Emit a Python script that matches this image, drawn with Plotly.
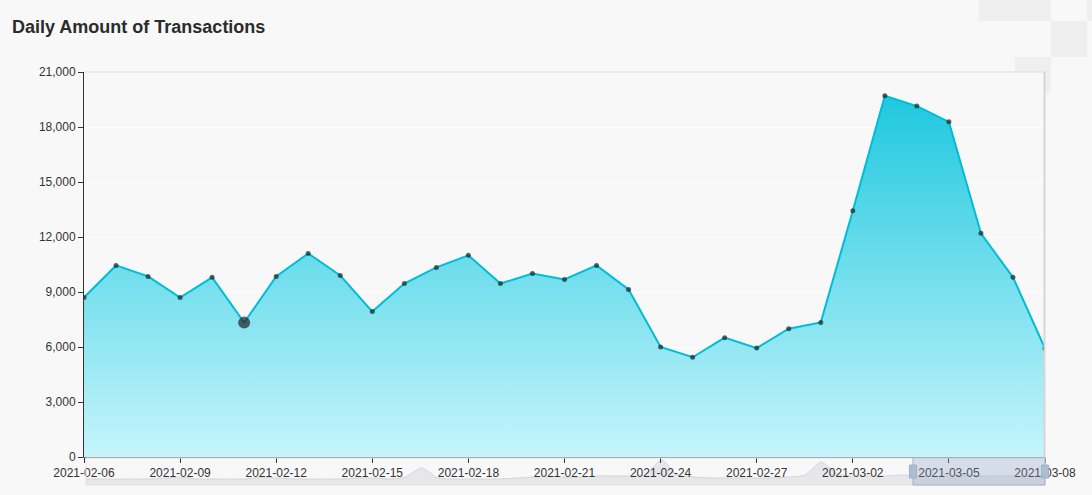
import plotly.graph_objects as go
import pandas as pd

# ---------------- data ----------------
dates = [d.strftime("%Y-%m-%d") for d in pd.date_range("2021-02-06", "2021-03-08", freq="D")]
amounts = [8700, 10450, 9850, 8700, 9800, 7330, 9850, 11100, 9900, 7930,
           9460, 10340, 11000, 9460, 10010, 9680, 10450, 9140, 6000, 5440,
           6510, 5940, 7000, 7340, 13430, 19700, 19140, 18280, 12200, 9800, 5920]
highlight_date = "2021-02-11"

# overview (slider) series, half-day resolution, arbitrary units
overview_times = [d.strftime("%Y-%m-%d %H:%M") for d in pd.date_range("2021-02-06", "2021-03-08", freq="12h")]
overview_vals = [6, 6, 6, 6, 6, 7, 8, 6, 6, 6,
                 6, 8, 7, 6, 6, 6, 6, 7, 7, 6,
                 8, 17, 7, 6, 6, 6, 6, 7, 8, 9,
                 8, 8, 9, 9, 9, 10, 25, 10, 8, 7,
                 7, 7, 7, 7, 8, 10, 23, 11, 9, 9,
                 9, 10, 9, 9, 9, 10, 9, 9, 9, 9, 9]

y_ticks = [0, 3000, 6000, 9000, 12000, 15000, 18000, 21000]

# ---------------- geometry helpers (pixels -> paper) ----------------
W, H = 1092, 495
L, R, T, B = 84, 1045, 72, 485
def px(x):
    return (x - L) / (R - L)
def py(y):
    return (B - y) / (B - T)

BG = "#f8f8f8"

sizes = [12 if d == highlight_date else 5 for d in dates]

fig = go.Figure()

# overview mini chart (slider) -- drawn in first subplot so main axis labels sit on top
fig.add_trace(go.Scatter(
    x=overview_times, y=overview_vals, xaxis="x", yaxis="y",
    mode="lines", line=dict(color="#d3d5da", width=1, shape="spline", smoothing=0.6),
    fill="tozeroy", fillcolor="#e6e7ea", hoverinfo="skip", showlegend=False,
))

# main area
fig.add_trace(go.Scatter(
    x=dates, y=amounts, mode="lines+markers", xaxis="x2", yaxis="y2",
    line=dict(color="#00bcd6", width=2),
    marker=dict(color="#222222", size=sizes, line=dict(width=0)),
    fill="tozeroy",
    fillgradient=dict(type="vertical",
                      colorscale=[[0, "#c6f5fb"], [1, "#1fc8df"]]),
    showlegend=False,
))

shapes = []
# decorative squares top-right
for (x0, y0, x1, y1) in [(979, 0, 1051, 21), (1087, 0, 1100, 21), (1051, 21, 1087, 57),
                         (1015, 57, 1051, 72), (1045, 72, 1051, 93)]:
    shapes.append(dict(type="rect", xref="paper", yref="paper",
                       x0=px(x0), x1=px(x1), y0=py(y1), y1=py(y0),
                       fillcolor="#efefef", line=dict(width=0), layer="below"))
# plot frame top & right
shapes.append(dict(type="line", xref="paper", yref="paper", x0=0, x1=1, y0=1, y1=1,
                   line=dict(color="#dcdcdc", width=1)))
shapes.append(dict(type="line", xref="paper", yref="paper", x0=px(1044.5), x1=px(1044.5),
                   y0=py(457), y1=1, line=dict(color="#d6d6d6", width=2)))
# slider frame
shapes.append(dict(type="rect", xref="paper", yref="paper", x0=px(86), x1=px(1045),
                   y0=py(485), y1=py(458), line=dict(color="#e2e2e2", width=1),
                   fillcolor="rgba(0,0,0,0)"))
# slider selected window
shapes.append(dict(type="rect", xref="paper", yref="paper", x0=px(913), x1=px(1045),
                   y0=py(485), y1=py(457.5), line=dict(color="#9fb2cc", width=1),
                   fillcolor="rgba(140,160,195,0.30)", layer="above"))
# handles
for hx in (913, 1045):
    shapes.append(dict(type="rect", xref="paper", yref="paper", x0=px(hx - 3.5), x1=px(hx + 3.5),
                       y0=py(478), y1=py(465), line=dict(color="#9fb2cc", width=1),
                       fillcolor="#aebdd2", layer="above"))

fig.update_layout(
    width=W, height=H,
    margin=dict(l=L, r=W - R, t=T, b=H - B, autoexpand=False),
    paper_bgcolor=BG, plot_bgcolor=BG,
    font=dict(family="Liberation Sans, Arial, sans-serif", size=12, color="#333333"),
    title=dict(text="<b>Daily Amount of Transactions</b>", xref="container", yref="container",
               x=12 / W, xanchor="left", y=1 - 27 / H, yanchor="middle",
               font=dict(size=18, color="#2b2b2b")),
    xaxis2=dict(type="date", range=[dates[0], dates[-1]], tick0=dates[0], dtick=3 * 86400000,
                tickformat="%Y-%m-%d", showgrid=False, zeroline=False,
                showline=True, linecolor="#6b7b80", linewidth=1,
                ticks="outside", ticklen=5, tickcolor="#333333",
                anchor="y2", fixedrange=True, automargin=False),
    yaxis2=dict(range=[0, 21000], tickvals=y_ticks, tickformat=",d", anchor="x2",
                domain=[py(457), 1], showgrid=True, gridcolor="#ffffff", gridwidth=1,
                zeroline=False, showline=True, linecolor="#333333", linewidth=1,
                ticks="outside", ticklen=5, tickcolor="#333333", fixedrange=True,
                automargin=False),
    xaxis=dict(type="date", range=[overview_times[0], overview_times[-1]],
               domain=[px(86), 1], anchor="y", visible=False, fixedrange=True),
    yaxis=dict(range=[0, 27], domain=[0, py(458)], anchor="x", visible=False, fixedrange=True),
    shapes=shapes,
    hovermode="closest",
)

fig.write_html("out.html", config={"displayModeBar": False},
               post_script="document.body.style.margin='0';document.body.style.background='#f8f8f8';")
